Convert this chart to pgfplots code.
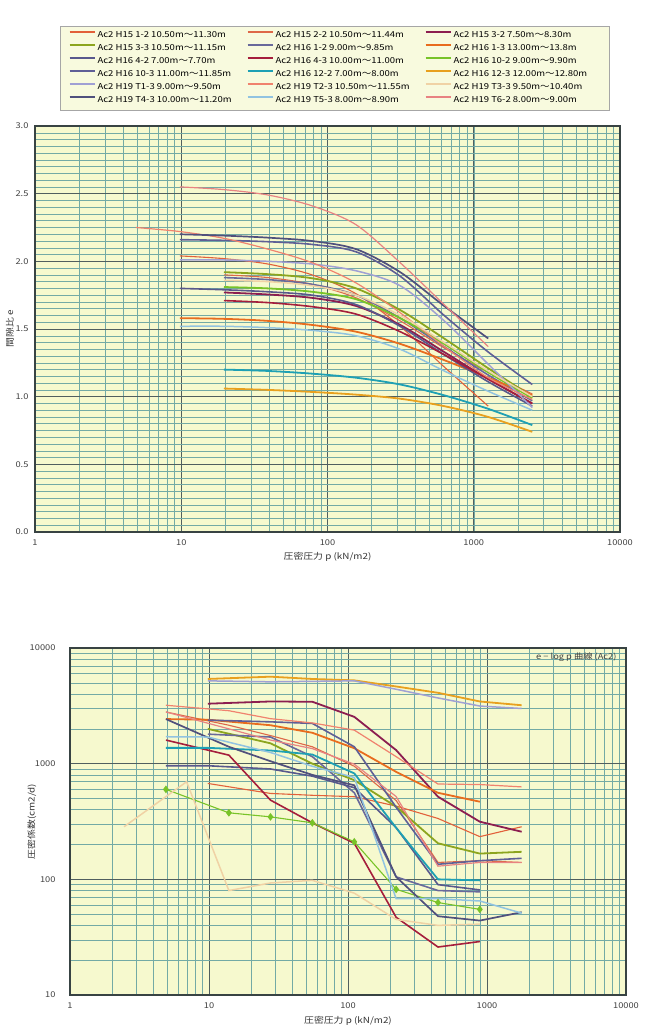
\documentclass[border=0pt]{standalone}
\usepackage{pgfplots}
\pgfplotsset{compat=1.18}
\usepackage{fontspec}
\setmainfont{Noto Sans CJK JP}[FakeStretch=1.16]
\definecolor{bg}{RGB}{246,249,206}
\definecolor{legbg}{RGB}{248,250,222}
\definecolor{gridminor}{RGB}{115,170,165}
\definecolor{gridmajor}{RGB}{80,95,95}
\definecolor{cA}{RGB}{226,96,58}
\definecolor{cB}{RGB}{222,104,72}
\definecolor{cC}{RGB}{140,30,80}
\definecolor{cD}{RGB}{140,165,30}
\definecolor{cE}{RGB}{105,105,155}
\definecolor{cF}{RGB}{232,108,30}
\definecolor{cG}{RGB}{88,88,140}
\definecolor{cH}{RGB}{165,30,60}
\definecolor{cI}{RGB}{120,195,40}
\definecolor{cJ}{RGB}{95,95,150}
\definecolor{cK}{RGB}{30,160,180}
\definecolor{cL}{RGB}{232,160,30}
\definecolor{cM}{RGB}{160,160,212}
\definecolor{cN}{RGB}{240,130,110}
\definecolor{cO}{RGB}{240,210,165}
\definecolor{cP}{RGB}{80,80,125}
\definecolor{cQ}{RGB}{145,195,225}
\definecolor{cR}{RGB}{232,130,130}
\pgfplotsset{
  chartbase/.style={
    scale only axis,
    axis background/.style={fill=bg},
    grid=both,
    major grid style={gridmajor, line width=0.8pt},
    minor grid style={gridminor, line width=0.5pt},
    axis line style={gridmajor!70!black, line width=1.2pt},
    major tick length=0pt, minor tick length=0pt,
    tick style={draw=none},
    tick label style={font=\fontsize{8}{9}\selectfont, text=black!75},
    label style={font=\fontsize{8.5}{10}\selectfont, text=black!80},
    /pgf/number format/assume math mode=true,
    xmin=1, xmax=10000,
    xtick={1,10,100,1000,10000}, xticklabels={1,10,100,1000,10000},
  },
  s1/.style={cA, line width=1.1pt},
  s2/.style={cB, line width=1.1pt},
  s3/.style={cC, line width=1.8pt},
  s4/.style={cD, line width=1.8pt},
  s5/.style={cE, line width=1.6pt},
  s6/.style={cF, line width=1.8pt},
  s7/.style={cG, line width=1.6pt},
  s8/.style={cH, line width=1.6pt},
  s9/.style={cI, line width=1.8pt},
  s10/.style={cJ, line width=1.6pt},
  s11/.style={cK, line width=1.8pt},
  s12/.style={cL, line width=1.8pt},
  s13/.style={cM, line width=1.5pt},
  s14/.style={cN, line width=1.2pt},
  s15/.style={cO, line width=1.5pt},
  s16/.style={cP, line width=1.7pt},
  s17/.style={cQ, line width=1.5pt},
  s18/.style={cR, line width=1.2pt},
}
\newcommand{\LE}[1]{\addlegendentry{\makebox[147pt][l]{#1}}}
\begin{document}
\begin{tikzpicture}
\useasboundingbox (0pt,0pt) rectangle (651pt,-1035pt);
% ---------------- top chart ----------------
\begin{axis}[xmode=log, chartbase,
  at={(35pt,-532pt)}, anchor=south west,
  width=585pt, height=406pt,
  ymin=0, ymax=3,
  ytick={0,0.5,1,1.5,2,2.5,3},
  minor y tick num=9,
  yticklabel style={/pgf/number format/fixed, /pgf/number format/fixed zerofill, /pgf/number format/precision=1, xshift=-3pt},
  xticklabel style={yshift=-4pt},
  xlabel={圧密圧力 p (kN/m2)},
  xlabel style={at={(axis description cs:0.5,0)}, anchor=north, yshift=-17pt},
  ylabel={間隙比 e},
  ylabel style={at={(axis description cs:0,0.5)}, anchor=center, yshift=25pt},
  legend columns=3,
  legend cell align=left,
  legend image code/.code={\draw[#1, line width=2pt] (0pt,3pt) -- (25pt,3pt);},
  legend image post style={line width=2pt},
  legend style={at={(0.513,1.039)}, anchor=south, draw=gray!70, fill=legbg,
    font=\fontsize{8.2}{9}\selectfont, inner xsep=8pt, inner ysep=4pt,
    column sep=1pt, row sep=2pt,
    nodes={inner sep=1pt, text height=6.5pt, text depth=2.5pt}},
]
\addplot[s1, smooth] coordinates {(9.8,2.04) (19.6,2.02) (39.2,1.98) (78.5,1.90) (157,1.76) (314,1.52) (628,1.22) (1256,0.93)};
\LE{Ac2 H15 1-2 10.50m〜11.30m}
\addplot[s2, smooth] coordinates {(19.6,1.90) (39.2,1.88) (78.5,1.83) (157,1.73) (314,1.56) (628,1.36) (1256,1.18) (2512,1.02)};
\LE{Ac2 H15 2-2 10.50m〜11.44m}
\addplot[s3, smooth] coordinates {(19.6,1.77) (39.2,1.755) (78.5,1.73) (157,1.67) (314,1.53) (628,1.33) (1256,1.13) (2512,0.95)};
\LE{Ac2 H15 3-2 7.50m〜8.30m}
\addplot[s4, smooth] coordinates {(19.6,1.92) (39.2,1.905) (78.5,1.875) (157,1.80) (314,1.64) (628,1.43) (1256,1.21) (2512,1.00)};
\LE{Ac2 H15 3-3 10.50m〜11.15m}
\addplot[s5, smooth] coordinates {(19.6,1.88) (39.2,1.865) (78.5,1.83) (157,1.75) (314,1.58) (628,1.37) (1256,1.16) (2512,0.97)};
\LE{Ac2 H16 1-2 9.00m〜9.85m}
\addplot[s6, smooth] coordinates {(9.8,1.58) (19.6,1.575) (39.2,1.56) (78.5,1.53) (157,1.48) (314,1.39) (628,1.27) (1256,1.14) (2512,1.01)};
\LE{Ac2 H16 1-3 13.00m〜13.8m}
\addplot[s7, smooth] coordinates {(9.8,1.80) (19.6,1.79) (39.2,1.775) (78.5,1.75) (157,1.68) (314,1.52) (628,1.31) (1256,1.11) (2512,0.93)};
\LE{Ac2 H16 4-2 7.00m〜7.70m}
\addplot[s8, smooth] coordinates {(19.6,1.71) (39.2,1.695) (78.5,1.665) (157,1.61) (314,1.48) (628,1.31) (1256,1.13) (2512,0.95)};
\LE{Ac2 H16 4-3 10.00m〜11.00m}
\addplot[s9, smooth] coordinates {(19.6,1.81) (39.2,1.80) (78.5,1.775) (157,1.72) (314,1.58) (628,1.39) (1256,1.18) (2512,0.99)};
\LE{Ac2 H16 10-2 9.00m〜9.90m}
\addplot[s10, smooth] coordinates {(9.8,2.16) (19.6,2.155) (39.2,2.145) (78.5,2.125) (157,2.07) (314,1.89) (628,1.60) (1256,1.33) (2512,1.09)};
\LE{Ac2 H16 10-3 11.00m〜11.85m}
\addplot[s11, smooth] coordinates {(19.6,1.20) (39.2,1.19) (78.5,1.17) (157,1.14) (314,1.09) (628,1.01) (1256,0.91) (2512,0.79)};
\LE{Ac2 H16 12-2 7.00m〜8.00m}
\addplot[s12, smooth] coordinates {(19.6,1.06) (39.2,1.05) (78.5,1.035) (157,1.015) (314,0.985) (628,0.93) (1256,0.85) (2512,0.74)};
\LE{Ac2 H16 12-3 12.00m〜12.80m}
\addplot[s13, smooth] coordinates {(9.8,2.01) (19.6,2.01) (39.2,2.00) (78.5,1.98) (157,1.93) (314,1.82) (628,1.56) (1256,1.24) (2512,0.92)};
\LE{Ac2 H19 T1-3 9.00m〜9.50m}
\addplot[s14, smooth] coordinates {(4.9,2.25) (9.8,2.22) (19.6,2.17) (39.2,2.09) (78.5,1.99) (157,1.84) (314,1.62) (628,1.37) (1256,1.14) (2512,0.98)};
\LE{Ac2 H19 T2-3 10.50m〜11.55m}
\addplot[s15, smooth] coordinates {(19.6,1.86) (39.2,1.85) (78.5,1.82) (157,1.75) (314,1.60) (628,1.40) (1256,1.19) (2512,1.00)};
\LE{Ac2 H19 T3-3 9.50m〜10.40m}
\addplot[s16, smooth] coordinates {(9.8,2.20) (19.6,2.19) (39.2,2.175) (78.5,2.15) (157,2.09) (314,1.92) (628,1.67) (1256,1.43)};
\LE{Ac2 H19 T4-3 10.00m〜11.20m}
\addplot[s17, smooth] coordinates {(9.8,1.52) (19.6,1.52) (39.2,1.51) (78.5,1.49) (157,1.45) (314,1.35) (628,1.19) (1256,1.04) (2512,0.90)};
\LE{Ac2 H19 T5-3 8.00m〜8.90m}
\addplot[s18, smooth] coordinates {(9.8,2.55) (19.6,2.53) (39.2,2.49) (78.5,2.41) (157,2.27) (314,1.99) (628,1.68) (1256,1.37)};
\LE{Ac2 H19 T6-2 8.00m〜9.00m}
\end{axis}
% ---------------- bottom chart ----------------
\begin{axis}[xmode=log, ymode=log, chartbase,
  at={(70pt,-995pt)}, anchor=south west,
  width=556pt, height=347pt,
  ymin=10, ymax=10000,
  ytick={10,100,1000,10000}, yticklabels={10,100,1000,10000},
  yticklabel style={xshift=-11pt},
  xticklabel style={yshift=-4pt},
  xlabel={圧密圧力 p (kN/m2)},
  xlabel style={at={(axis description cs:0.5,0)}, anchor=north, yshift=-18pt},
  ylabel={圧密係数(cm2/d)},
  ylabel style={at={(axis description cs:0,0.5)}, anchor=center, yshift=38pt},
]
\addplot[s1] coordinates {(9.8,675) (27.7,553) (55.4,533) (111,518) (222,430) (444,336) (888,234) (1776,285)};
\addplot[s2] coordinates {(4.9,2800) (13.9,2150) (27.7,1750) (55.4,1400) (111,950) (222,480) (444,140) (888,145) (1776,140)};
\addplot[s3] coordinates {(9.8,3300) (27.7,3450) (55.4,3430) (111,2540) (222,1310) (444,518) (888,315) (1776,258)};
\addplot[s4] coordinates {(9.8,2000) (27.7,1500) (55.4,1000) (111,720) (222,425) (444,205) (888,167) (1776,173)};
\addplot[s5] coordinates {(9.8,1800) (27.7,1700) (55.4,1150) (111,560) (222,105) (444,80) (888,78)};
\addplot[s6] coordinates {(4.9,2430) (9.8,2400) (27.7,2150) (55.4,1850) (111,1360) (222,850) (444,560) (888,469)};
\addplot[s7] coordinates {(4.9,960) (9.8,960) (27.7,900) (55.4,780) (111,620) (222,280) (444,90) (888,81)};
\addplot[s8] coordinates {(4.9,1600) (13.9,1185) (27.7,484) (55.4,308) (111,205) (222,47) (444,26) (888,29)};
\addplot[cI, line width=1.1pt, mark=diamond*, mark size=3pt, mark options={fill=cI, draw=cI}] coordinates {(4.9,600) (13.9,376) (27.7,347) (55.4,308) (111,211) (222,82) (444,63) (888,55)};
\addplot[s10] coordinates {(9.8,2380) (27.7,2300) (55.4,2230) (111,1400) (222,420) (444,135) (888,145) (1776,152)};
\addplot[s11] coordinates {(4.9,1370) (9.8,1370) (27.7,1300) (55.4,1200) (111,824) (222,279) (444,100) (888,98)};
\addplot[s12] coordinates {(9.8,5400) (27.7,5650) (55.4,5400) (111,5250) (222,4650) (444,4100) (888,3450) (1776,3200)};
\addplot[s13] coordinates {(9.8,5200) (27.7,5100) (55.4,5150) (111,5200) (222,4400) (444,3700) (888,3150) (1776,3000)};
\addplot[s14] coordinates {(4.9,3200) (13.9,2870) (27.7,2450) (55.4,2250) (111,1950) (222,1150) (444,667) (888,660) (1776,630)};
\addplot[s15] coordinates {(2.45,285) (6.9,698) (13.9,80) (27.7,93) (55.4,98) (111,76) (222,45) (444,40) (888,41)};
\addplot[s16] coordinates {(4.9,2430) (13.9,1400) (27.7,1050) (55.4,800) (111,650) (222,105) (444,48) (888,44) (1776,52)};
\addplot[s17] coordinates {(4.9,1710) (9.8,1700) (27.7,1250) (55.4,950) (111,760) (222,68) (444,68) (888,65) (1776,51)};
\addplot[s18] coordinates {(4.9,2800) (13.9,2000) (27.7,1600) (55.4,1350) (111,990) (222,520) (444,130) (888,140) (1776,140)};
\node[anchor=north east, font=\fontsize{8}{9}\selectfont, text=black!75] at (rel axis cs:1,1) [xshift=-6pt, yshift=-1pt] {e − log p 曲線 (Ac2)};
\end{axis}
\end{tikzpicture}
\end{document}
